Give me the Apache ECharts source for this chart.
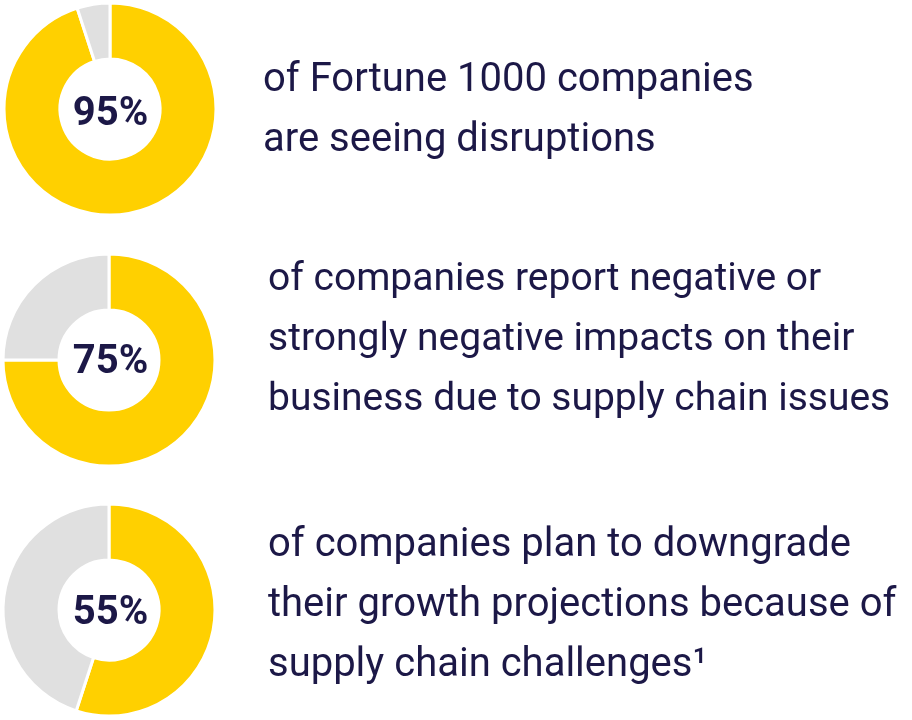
<!DOCTYPE html>
<html>
<head>
<meta charset="utf-8">
<script src="https://cdn.jsdelivr.net/npm/echarts@6/dist/echarts.min.js"></script>
<style>
html,body{margin:0;padding:0;background:#fff;}
#c{width:912px;height:720px;}
</style>
</head>
<body>
<div id="c"></div>
<script>
// Data
var shares = [95, 75, 55];
var centerLabels = ['95%', '75%', '55%'];
var descriptions = [
  ['of Fortune 1000 companies', 'are seeing disruptions'],
  ['of companies report negative or', 'strongly negative impacts on their', 'business due to supply chain issues'],
  ['of companies plan to downgrade', 'their growth projections because of', 'supply chain challenges\u00B9']
];

// Layout (not data)
var YELLOW = '#FFD000', GRAY = '#E0E0E0', INK = '#1C1847';
var centers = [[110, 109], [109, 360], [109, 610]];
var labelPos = [[110.5, 115], [110.5, 362.5], [110.5, 613.5]];
var textPos = [[263, 81], [268, 280.5], [268, 546]];
var textSize = [40, 39, 40];
var FONT = 'Roboto, "Noto Sans", sans-serif';

var chart = echarts.init(document.getElementById('c'), null, {renderer: 'canvas'});

var series = shares.map(function (v, i) {
  return {
    type: 'pie',
    center: centers[i],
    radius: [50, 106],
    startAngle: 90,
    clockwise: true,
    silent: true,
    avoidLabelOverlap: false,
    itemStyle: {borderColor: '#fff', borderWidth: 3},
    label: {show: false},
    labelLine: {show: false},
    emphasis: {disabled: true},
    data: [
      {value: v, name: 'yes', itemStyle: {color: YELLOW}},
      {value: 100 - v, name: 'no', itemStyle: {color: GRAY}}
    ]
  };
});

var graphics = [];
centerLabels.forEach(function (t, i) {
  graphics.push({
    type: 'text',
    x: labelPos[i][0],
    y: labelPos[i][1],
    style: {
      text: t,
      fill: INK,
      font: 'bold 40px ' + FONT,
      align: 'center',
      verticalAlign: 'middle'
    }
  });
});
descriptions.forEach(function (lines, i) {
  lines.forEach(function (line, j) {
    graphics.push({
      type: 'text',
      x: textPos[i][0],
      y: textPos[i][1] + j * 60,
      style: {
        text: line,
        fill: INK,
        font: textSize[i] + 'px ' + FONT,
        align: 'left',
        verticalAlign: 'middle'
      }
    });
  });
});

chart.setOption({
  animation: false,
  backgroundColor: '#fff',
  series: series,
  graphic: graphics
});
</script>
</body>
</html>
